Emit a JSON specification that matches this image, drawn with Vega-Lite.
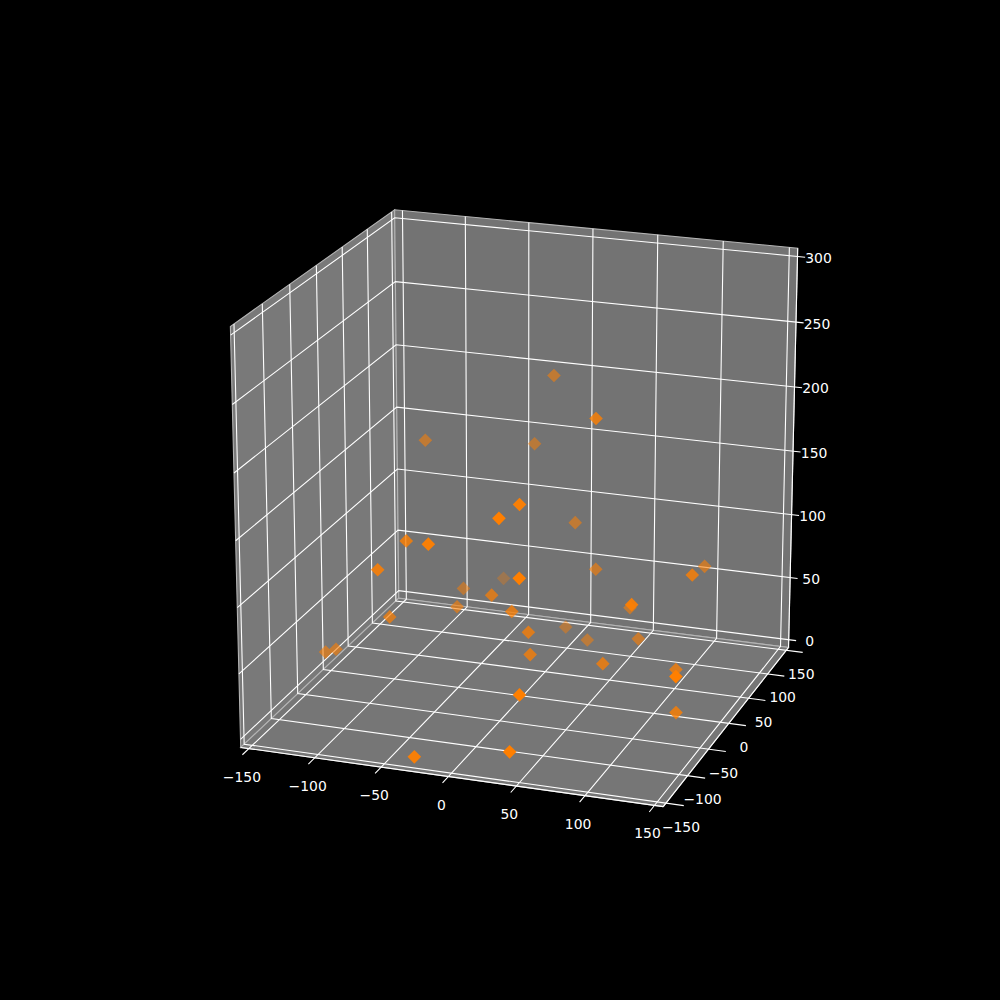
{
  "$schema": "https://vega.github.io/schema/vega-lite/v6.json",
  "width": 1000,
  "height": 1000,
  "padding": 0,
  "autosize": {"type": "fit", "contains": "padding"},
  "background": "#000000",
  "view": {"stroke": null},
  "datasets": {
    "scene": [
      {"kind": "pane", "id": "xwall", "step": 0, "x": -156.25, "y": -156.25, "z": -6.25},
      {"kind": "pane", "id": "xwall", "step": 1, "x": -156.25, "y": 156.25, "z": -6.25},
      {"kind": "pane", "id": "xwall", "step": 2, "x": -156.25, "y": 156.25, "z": 306.25},
      {"kind": "pane", "id": "xwall", "step": 3, "x": -156.25, "y": -156.25, "z": 306.25},
      {"kind": "pane", "id": "ywall", "step": 0, "x": -156.25, "y": 156.25, "z": -6.25},
      {"kind": "pane", "id": "ywall", "step": 1, "x": 156.25, "y": 156.25, "z": -6.25},
      {"kind": "pane", "id": "ywall", "step": 2, "x": 156.25, "y": 156.25, "z": 306.25},
      {"kind": "pane", "id": "ywall", "step": 3, "x": -156.25, "y": 156.25, "z": 306.25},
      {"kind": "pane", "id": "floor", "step": 0, "x": -156.25, "y": -156.25, "z": -6.25},
      {"kind": "pane", "id": "floor", "step": 1, "x": 156.25, "y": -156.25, "z": -6.25},
      {"kind": "pane", "id": "floor", "step": 2, "x": 156.25, "y": 156.25, "z": -6.25},
      {"kind": "pane", "id": "floor", "step": 3, "x": -156.25, "y": 156.25, "z": -6.25},

      {"kind": "line", "id": "gx-150", "step": 0, "x": -150, "y": -168, "z": -6.25},
      {"kind": "line", "id": "gx-150", "step": 1, "x": -150, "y": 156.25, "z": -6.25},
      {"kind": "line", "id": "gx-150", "step": 2, "x": -150, "y": 156.25, "z": 306.25},
      {"kind": "line", "id": "gx-100", "step": 0, "x": -100, "y": -168, "z": -6.25},
      {"kind": "line", "id": "gx-100", "step": 1, "x": -100, "y": 156.25, "z": -6.25},
      {"kind": "line", "id": "gx-100", "step": 2, "x": -100, "y": 156.25, "z": 306.25},
      {"kind": "line", "id": "gx-50", "step": 0, "x": -50, "y": -168, "z": -6.25},
      {"kind": "line", "id": "gx-50", "step": 1, "x": -50, "y": 156.25, "z": -6.25},
      {"kind": "line", "id": "gx-50", "step": 2, "x": -50, "y": 156.25, "z": 306.25},
      {"kind": "line", "id": "gx0", "step": 0, "x": 0, "y": -168, "z": -6.25},
      {"kind": "line", "id": "gx0", "step": 1, "x": 0, "y": 156.25, "z": -6.25},
      {"kind": "line", "id": "gx0", "step": 2, "x": 0, "y": 156.25, "z": 306.25},
      {"kind": "line", "id": "gx50", "step": 0, "x": 50, "y": -168, "z": -6.25},
      {"kind": "line", "id": "gx50", "step": 1, "x": 50, "y": 156.25, "z": -6.25},
      {"kind": "line", "id": "gx50", "step": 2, "x": 50, "y": 156.25, "z": 306.25},
      {"kind": "line", "id": "gx100", "step": 0, "x": 100, "y": -168, "z": -6.25},
      {"kind": "line", "id": "gx100", "step": 1, "x": 100, "y": 156.25, "z": -6.25},
      {"kind": "line", "id": "gx100", "step": 2, "x": 100, "y": 156.25, "z": 306.25},
      {"kind": "line", "id": "gx150", "step": 0, "x": 150, "y": -168, "z": -6.25},
      {"kind": "line", "id": "gx150", "step": 1, "x": 150, "y": 156.25, "z": -6.25},
      {"kind": "line", "id": "gx150", "step": 2, "x": 150, "y": 156.25, "z": 306.25},

      {"kind": "line", "id": "gy-150", "step": 0, "x": 169, "y": -150, "z": -6.25},
      {"kind": "line", "id": "gy-150", "step": 1, "x": -156.25, "y": -150, "z": -6.25},
      {"kind": "line", "id": "gy-150", "step": 2, "x": -156.25, "y": -150, "z": 306.25},
      {"kind": "line", "id": "gy-100", "step": 0, "x": 169, "y": -100, "z": -6.25},
      {"kind": "line", "id": "gy-100", "step": 1, "x": -156.25, "y": -100, "z": -6.25},
      {"kind": "line", "id": "gy-100", "step": 2, "x": -156.25, "y": -100, "z": 306.25},
      {"kind": "line", "id": "gy-50", "step": 0, "x": 169, "y": -50, "z": -6.25},
      {"kind": "line", "id": "gy-50", "step": 1, "x": -156.25, "y": -50, "z": -6.25},
      {"kind": "line", "id": "gy-50", "step": 2, "x": -156.25, "y": -50, "z": 306.25},
      {"kind": "line", "id": "gy0", "step": 0, "x": 169, "y": 0, "z": -6.25},
      {"kind": "line", "id": "gy0", "step": 1, "x": -156.25, "y": 0, "z": -6.25},
      {"kind": "line", "id": "gy0", "step": 2, "x": -156.25, "y": 0, "z": 306.25},
      {"kind": "line", "id": "gy50", "step": 0, "x": 169, "y": 50, "z": -6.25},
      {"kind": "line", "id": "gy50", "step": 1, "x": -156.25, "y": 50, "z": -6.25},
      {"kind": "line", "id": "gy50", "step": 2, "x": -156.25, "y": 50, "z": 306.25},
      {"kind": "line", "id": "gy100", "step": 0, "x": 169, "y": 100, "z": -6.25},
      {"kind": "line", "id": "gy100", "step": 1, "x": -156.25, "y": 100, "z": -6.25},
      {"kind": "line", "id": "gy100", "step": 2, "x": -156.25, "y": 100, "z": 306.25},
      {"kind": "line", "id": "gy150", "step": 0, "x": 169, "y": 150, "z": -6.25},
      {"kind": "line", "id": "gy150", "step": 1, "x": -156.25, "y": 150, "z": -6.25},
      {"kind": "line", "id": "gy150", "step": 2, "x": -156.25, "y": 150, "z": 306.25},

      {"kind": "line", "id": "gz0", "step": 0, "x": 162, "y": 156.25, "z": 0},
      {"kind": "line", "id": "gz0", "step": 1, "x": -156.25, "y": 156.25, "z": 0},
      {"kind": "line", "id": "gz0", "step": 2, "x": -156.25, "y": -156.25, "z": 0},
      {"kind": "line", "id": "gz50", "step": 0, "x": 162, "y": 156.25, "z": 50},
      {"kind": "line", "id": "gz50", "step": 1, "x": -156.25, "y": 156.25, "z": 50},
      {"kind": "line", "id": "gz50", "step": 2, "x": -156.25, "y": -156.25, "z": 50},
      {"kind": "line", "id": "gz100", "step": 0, "x": 162, "y": 156.25, "z": 100},
      {"kind": "line", "id": "gz100", "step": 1, "x": -156.25, "y": 156.25, "z": 100},
      {"kind": "line", "id": "gz100", "step": 2, "x": -156.25, "y": -156.25, "z": 100},
      {"kind": "line", "id": "gz150", "step": 0, "x": 162, "y": 156.25, "z": 150},
      {"kind": "line", "id": "gz150", "step": 1, "x": -156.25, "y": 156.25, "z": 150},
      {"kind": "line", "id": "gz150", "step": 2, "x": -156.25, "y": -156.25, "z": 150},
      {"kind": "line", "id": "gz200", "step": 0, "x": 162, "y": 156.25, "z": 200},
      {"kind": "line", "id": "gz200", "step": 1, "x": -156.25, "y": 156.25, "z": 200},
      {"kind": "line", "id": "gz200", "step": 2, "x": -156.25, "y": -156.25, "z": 200},
      {"kind": "line", "id": "gz250", "step": 0, "x": 162, "y": 156.25, "z": 250},
      {"kind": "line", "id": "gz250", "step": 1, "x": -156.25, "y": 156.25, "z": 250},
      {"kind": "line", "id": "gz250", "step": 2, "x": -156.25, "y": -156.25, "z": 250},
      {"kind": "line", "id": "gz300", "step": 0, "x": 162, "y": 156.25, "z": 300},
      {"kind": "line", "id": "gz300", "step": 1, "x": -156.25, "y": 156.25, "z": 300},
      {"kind": "line", "id": "gz300", "step": 2, "x": -156.25, "y": -156.25, "z": 300},

      {"kind": "line", "id": "xaxis", "step": 0, "x": -156.25, "y": -156.25, "z": -6.25},
      {"kind": "line", "id": "xaxis", "step": 1, "x": 156.25, "y": -156.25, "z": -6.25},
      {"kind": "line", "id": "yaxis", "step": 0, "x": 156.25, "y": -156.25, "z": -6.25},
      {"kind": "line", "id": "yaxis", "step": 1, "x": 156.25, "y": 156.25, "z": -6.25},
      {"kind": "line", "id": "zaxis", "step": 0, "x": 156.25, "y": 156.25, "z": -6.25},
      {"kind": "line", "id": "zaxis", "step": 1, "x": 156.25, "y": 156.25, "z": 306.25},

      {"kind": "xlabel", "label": "−150", "x": -150, "y": -156.25, "z": -6.25},
      {"kind": "xlabel", "label": "−100", "x": -100, "y": -156.25, "z": -6.25},
      {"kind": "xlabel", "label": "−50", "x": -50, "y": -156.25, "z": -6.25},
      {"kind": "xlabel", "label": "0", "x": 0, "y": -156.25, "z": -6.25},
      {"kind": "xlabel", "label": "50", "x": 50, "y": -156.25, "z": -6.25},
      {"kind": "xlabel", "label": "100", "x": 100, "y": -156.25, "z": -6.25},
      {"kind": "xlabel", "label": "150", "x": 150, "y": -156.25, "z": -6.25},
      {"kind": "ylabel", "label": "−150", "x": 156.25, "y": -150, "z": -6.25},
      {"kind": "ylabel", "label": "−100", "x": 156.25, "y": -100, "z": -6.25},
      {"kind": "ylabel", "label": "−50", "x": 156.25, "y": -50, "z": -6.25},
      {"kind": "ylabel", "label": "0", "x": 156.25, "y": 0, "z": -6.25},
      {"kind": "ylabel", "label": "50", "x": 156.25, "y": 50, "z": -6.25},
      {"kind": "ylabel", "label": "100", "x": 156.25, "y": 100, "z": -6.25},
      {"kind": "ylabel", "label": "150", "x": 156.25, "y": 150, "z": -6.25},
      {"kind": "zlabel", "label": "0", "x": 156.25, "y": 156.25, "z": 0},
      {"kind": "zlabel", "label": "50", "x": 156.25, "y": 156.25, "z": 50},
      {"kind": "zlabel", "label": "100", "x": 156.25, "y": 156.25, "z": 100},
      {"kind": "zlabel", "label": "150", "x": 156.25, "y": 156.25, "z": 150},
      {"kind": "zlabel", "label": "200", "x": 156.25, "y": 156.25, "z": 200},
      {"kind": "zlabel", "label": "250", "x": 156.25, "y": 156.25, "z": 250},
      {"kind": "zlabel", "label": "300", "x": 156.25, "y": 156.25, "z": 300},

      {"kind": "point", "x": -17, "y": 118, "z": 202},
      {"kind": "point", "x": 46, "y": 26.6, "z": 204.4},
      {"kind": "point", "x": -101, "y": 71, "z": 157},
      {"kind": "point", "x": -31, "y": 115, "z": 148},
      {"kind": "point", "x": 20, "y": -64, "z": 166.5},
      {"kind": "point", "x": 14, "y": -90, "z": 164.3},
      {"kind": "point", "x": 10, "y": 88.4, "z": 99.4},
      {"kind": "point", "x": -72, "y": -45.8, "z": 121.7},
      {"kind": "point", "x": -37, "y": -94, "z": 140.3},
      {"kind": "point", "x": -82, "y": -76.7, "z": 109.4},
      {"kind": "point", "x": 34, "y": 64.6, "z": 74},
      {"kind": "point", "x": 123, "y": 14.4, "z": 98.5},
      {"kind": "point", "x": 109, "y": 91.6, "z": 76},
      {"kind": "point", "x": 32, "y": -98.8, "z": 125},
      {"kind": "point", "x": -67, "y": 147, "z": 24.7},
      {"kind": "point", "x": -69, "y": 63.8, "z": 46.2},
      {"kind": "point", "x": -23, "y": -2.4, "z": 70.6},
      {"kind": "point", "x": 96, "y": -42.5, "z": 93},
      {"kind": "point", "x": 55, "y": 82, "z": 40},
      {"kind": "point", "x": -59, "y": 22.8, "z": 47.8},
      {"kind": "point", "x": -2, "y": -18.3, "z": 66.4},
      {"kind": "point", "x": -91, "y": -31.2, "z": 55.5},
      {"kind": "point", "x": 11, "y": -19.2, "z": 52.3},
      {"kind": "point", "x": 0, "y": 97, "z": 12},
      {"kind": "point", "x": 22, "y": 82, "z": 9.9},
      {"kind": "point", "x": 69, "y": 59, "z": 25.6},
      {"kind": "point", "x": 14, "y": -24, "z": 37.2},
      {"kind": "point", "x": 64, "y": -9, "z": 31.1},
      {"kind": "point", "x": -146, "y": -20, "z": 16.5},
      {"kind": "point", "x": -139, "y": -17, "z": 18.6},
      {"kind": "point", "x": 114, "y": 7, "z": 27.1},
      {"kind": "point", "x": 142, "y": -84.3, "z": 60.4},
      {"kind": "point", "x": 123, "y": -20.8, "z": 5.7},
      {"kind": "point", "x": 41, "y": -124, "z": 48.3},
      {"kind": "point", "x": 39, "y": -139, "z": 11},
      {"kind": "point", "x": -31, "y": -141, "z": -1.9}
    ]
  },
  "data": {"name": "scene"},
  "transform": [
    {"calculate": "0.00336 * datum.x", "as": "bx"},
    {"calculate": "0.00336 * datum.y", "as": "by"},
    {"calculate": "0.003342 * (datum.z - 150)", "as": "bz"},
    {"calculate": "0.3115 * datum.bx - 0.8896 * datum.by + 0.3338 * datum.bz", "as": "depth"},
    {"calculate": "522.8 + 4162 * (0.9438 * datum.bx + 0.3305 * datum.by) / (10 - datum.depth)", "as": "sx"},
    {"calculate": "494.6 - 4162 * (-0.1103 * datum.bx + 0.315 * datum.by + 0.9426 * datum.bz) / (10 - datum.depth)", "as": "sy"}
  ],
  "encoding": {
    "x": {"field": "sx", "type": "quantitative", "scale": {"domain": [0, 1000]}, "axis": null},
    "y": {"field": "sy", "type": "quantitative", "scale": {"domain": [1000, 0]}, "axis": null}
  },
  "layer": [
    {
      "transform": [{"filter": "datum.id === 'xwall'"}],
      "mark": {"type": "line", "interpolate": "linear-closed", "fill": "#797979", "stroke": "#b4b4b4", "strokeWidth": 1.1},
      "encoding": {"order": {"field": "step"}}
    },
    {
      "transform": [{"filter": "datum.id === 'ywall'"}],
      "mark": {"type": "line", "interpolate": "linear-closed", "fill": "#737373", "stroke": "#b4b4b4", "strokeWidth": 1.1},
      "encoding": {"order": {"field": "step"}}
    },
    {
      "transform": [{"filter": "datum.id === 'floor'"}],
      "mark": {"type": "line", "interpolate": "linear-closed", "fill": "#767676", "stroke": "#b4b4b4", "strokeWidth": 1.1},
      "encoding": {"order": {"field": "step"}}
    },
    {
      "transform": [{"filter": "datum.kind === 'line'"}],
      "mark": {"type": "line", "color": "#ffffff", "strokeWidth": 1.1},
      "encoding": {"detail": {"field": "id"}, "order": {"field": "step"}}
    },
    {
      "transform": [{"filter": "datum.kind === 'point'"}],
      "mark": {"type": "point", "shape": "diamond", "filled": true, "color": "#ff7f00", "size": 185, "strokeWidth": 0},
      "encoding": {
        "opacity": {"field": "depth", "type": "quantitative", "scale": {"domain": [-0.65, 0.3], "range": [0.3, 1], "clamp": true}, "legend": null}
      }
    },
    {
      "transform": [{"filter": "datum.kind === 'xlabel'"}],
      "mark": {"type": "text", "font": "DejaVu Sans", "fontSize": 13.9, "color": "#ffffff", "align": "center", "baseline": "middle", "dx": -7, "dy": 29},
      "encoding": {"text": {"field": "label"}}
    },
    {
      "transform": [{"filter": "datum.kind === 'ylabel'"}],
      "mark": {"type": "text", "font": "DejaVu Sans", "fontSize": 13.9, "color": "#ffffff", "align": "center", "baseline": "middle", "dx": 15, "dy": 24.5},
      "encoding": {"text": {"field": "label"}}
    },
    {
      "transform": [{"filter": "datum.kind === 'zlabel'"}],
      "mark": {"type": "text", "font": "DejaVu Sans", "fontSize": 13.9, "color": "#ffffff", "align": "center", "baseline": "middle", "dx": 21, "dy": 2.5},
      "encoding": {"text": {"field": "label"}}
    }
  ]
}
